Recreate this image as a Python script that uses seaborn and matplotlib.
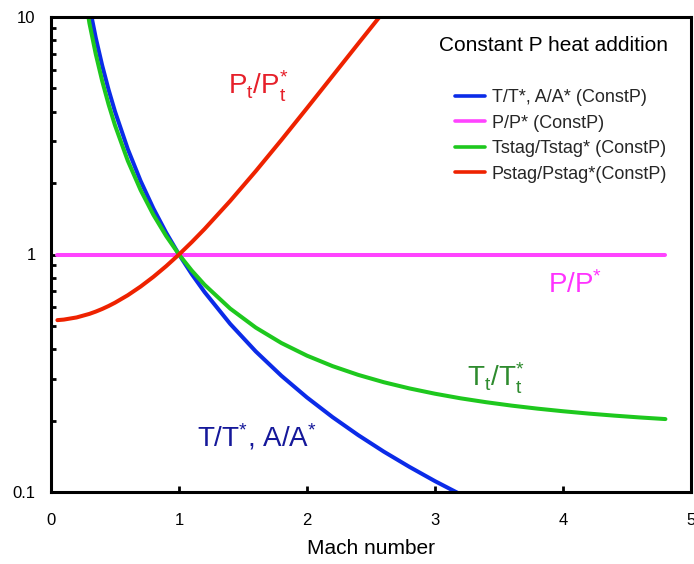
import matplotlib
matplotlib.use("Agg")
import matplotlib.pyplot as plt
import seaborn as sns
import numpy as np
from matplotlib.ticker import FixedLocator, NullFormatter

# ---- data ----
mach = [0.05, 0.1, 0.2, 0.3, 0.35, 0.4, 0.45, 0.5, 0.6, 0.7, 0.8, 0.9, 1.0,
        1.1, 1.2, 1.4, 1.6, 1.8, 2.0, 2.2, 2.4, 2.6, 2.8, 3.0, 3.2, 3.4,
        3.6, 3.8, 4.0, 4.2, 4.4, 4.6, 4.8]
t_ratio = [400, 100, 25, 11.11, 8.163, 6.25, 4.938, 4.0, 2.778, 2.041, 1.5625,
           1.2346, 1.0, 0.8264, 0.6944, 0.5102, 0.3906, 0.3086, 0.25, 0.2066,
           0.1736, 0.1479, 0.1276, 0.1111, 0.0977, 0.0865, 0.0772, 0.0693,
           0.0625, 0.0567, 0.0517, 0.0473, 0.0434]
p_ratio = [1.0] * len(mach)
tstag_ratio = [333.5, 83.5, 21.0, 9.426, 6.969, 5.375, 4.282, 3.5, 2.481, 1.868,
               1.469, 1.196, 1.0, 0.8554, 0.7454, 0.5919, 0.4922, 0.4239, 0.375,
               0.3388, 0.3113, 0.2899, 0.2730, 0.2593, 0.2480, 0.2388, 0.2310,
               0.2244, 0.2188, 0.2139, 0.2097, 0.2060, 0.2028]
mach_pstag = [0.05, 0.1, 0.2, 0.3, 0.35, 0.4, 0.45, 0.5, 0.6, 0.7, 0.8, 0.9, 1.0,
              1.1, 1.2, 1.4, 1.6, 1.8, 2.0, 2.2, 2.4, 2.6, 2.8, 3.0]
pstag_ratio = [0.5292, 0.5320, 0.5432, 0.5623, 0.5750, 0.5898, 0.6070, 0.6267,
               0.6738, 0.7328, 0.8053, 0.8935, 1.0, 1.128, 1.281, 1.681, 2.245,
               3.035, 4.134, 5.649, 7.724, 10.54, 14.34, 19.41]

series_labels = ["T/T*, A/A* (ConstP)", "P/P* (ConstP)",
                 "Tstag/Tstag* (ConstP)", "Pstag/Pstag*(ConstP)"]
series_colors = ["#0b2be8", "#ff44ff", "#1ec81e", "#ee2200"]

x_ticks = [0, 1, 2, 3, 4, 5]
y_ticks = [0.1, 1, 10]
y_tick_labels = ["0.1", "1", "10"]

# ---- style ----
sns.set_theme(style="white")
from matplotlib import font_manager
names = {f.name for f in font_manager.fontManager.ttflist}
fam = "Liberation Sans" if "Liberation Sans" in names else "DejaVu Sans"
plt.rcParams["font.family"] = [fam, "DejaVu Sans"]
plt.rcParams["mathtext.fontset"] = "custom"
plt.rcParams["mathtext.rm"] = fam
plt.rcParams["mathtext.it"] = fam + ":italic"
plt.rcParams["mathtext.bf"] = fam + ":bold"

fig = plt.figure(figsize=(6.94, 5.64), dpi=100)
ax = fig.add_axes([51 / 694, 1 - 492 / 564, 640 / 694, 475 / 564])

lw = 2.9
sns.lineplot(x=mach, y=t_ratio, ax=ax, color=series_colors[0], lw=lw,
             label=series_labels[0])
sns.lineplot(x=mach, y=p_ratio, ax=ax, color=series_colors[1], lw=lw,
             label=series_labels[1])
sns.lineplot(x=mach, y=tstag_ratio, ax=ax, color=series_colors[2], lw=lw,
             label=series_labels[2])
sns.lineplot(x=mach_pstag, y=pstag_ratio, ax=ax, color=series_colors[3], lw=lw,
             label=series_labels[3])

ax.set_yscale("log")
ax.set_xlim(0, 5)
ax.set_ylim(0.1, 10)
ax.set_xticks(x_ticks)
ax.set_xticklabels([str(v) for v in x_ticks], fontsize=12)
ax.set_yticks(y_ticks)
ax.set_yticklabels(y_tick_labels, fontsize=12)
minor = [v * d for d in (0.1, 1) for v in range(2, 10)]
ax.yaxis.set_minor_locator(FixedLocator(minor))
ax.yaxis.set_minor_formatter(NullFormatter())

for s in ax.spines.values():
    s.set_visible(True)
    s.set_color("black")
    s.set_linewidth(2.2)

ax.tick_params(axis="x", which="major", direction="in", length=4, width=2,
               color="black", pad=15, labelcolor="black", bottom=True)
ax.tick_params(axis="y", which="major", direction="in", length=4, width=2,
               color="black", pad=11, labelcolor="black", left=True)
ax.tick_params(axis="y", which="minor", direction="in", length=3.5, width=2,
               color="black", left=True)
ax.tick_params(top=False, right=False)

ax.set_xlabel("Mach number", fontsize=15, color="black", labelpad=8)
ax.set_ylabel("")

# legend
ax.legend(loc="upper left", bbox_to_anchor=(0.631, 0.848), frameon=False,
          fontsize=13, handlelength=1.65, handletextpad=0.4, labelspacing=0.47,
          borderpad=0, borderaxespad=0)
for line in ax.get_legend().get_lines():
    line.set_linewidth(2.6)
ax.text(0.785, 0.939, "Constant P heat addition", transform=ax.transAxes,
        ha="center", va="center", fontsize=15, color="black")

# curve annotations
ax.text(1.141, 0.1547, r"T/T$^{*}$, A/A$^{*}$", color="#15189a", fontsize=20,
        ha="left", va="baseline")
ax.text(1.383, 4.695, r"P$_\mathrm{t}$/P$_\mathrm{t}^{*}$", color="#e6202a",
        fontsize=20, ha="left", va="baseline")
ax.text(3.883, 0.6887, r"P/P$^{*}$", color="#ff33ff", fontsize=20,
        ha="left", va="baseline")
ax.text(3.25, 0.2768, r"T$_\mathrm{t}$/T$_\mathrm{t}^{*}$", color="#2e8b2e",
        fontsize=20, ha="left", va="baseline")

fig.savefig("out.png", dpi=100)
